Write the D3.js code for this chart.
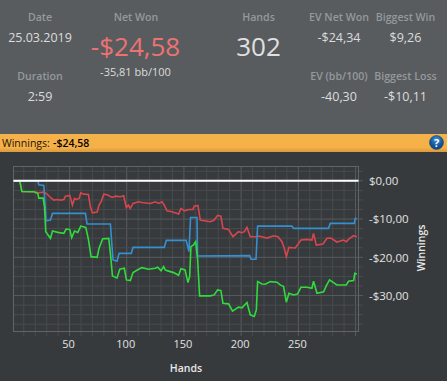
<!DOCTYPE html>
<html>
<head>
<meta charset="utf-8">
<script src="https://cdn.jsdelivr.net/npm/d3@7"></script>
<style>
  html, body { margin: 0; padding: 0; background: #373a3d; overflow: hidden; }
  text { font-family: "Open Sans", "Noto Sans", sans-serif; }
</style>
</head>
<body>
<div id="chart"></div>
<script>
// Values
const redHands = [1, 6.5, 8.3, 18.8, 23.1, 27.5, 30.4, 33.3, 36.2, 39.1, 42, 45, 46.4, 50.2, 51.4, 52.5, 54.3, 56, 58.4, 59.8, 62.4, 66.5, 68.2, 70, 74.1, 75.8, 77.9, 79.9, 82.8, 87.2, 90.1, 94.5, 97.3, 99.6, 101.4, 103.1, 105.5, 110.4, 113.3, 120.6, 125, 127.9, 130.8, 132.8, 135.2, 139.5, 145.3, 147.4, 150.3, 154.1, 157.9, 159, 162.2, 164.3, 173, 176.5, 179.4, 182.3, 184.1, 189, 192.8, 197.7, 200.7, 202.8, 205.1, 208, 212.4, 215.3, 222.6, 228.4, 232.2, 235.7, 237.7, 239.5, 241.8, 247.3, 252.3, 257.5, 261.9, 263.3, 265.7, 271.5, 275, 278.5, 283.7, 289.5, 291.9, 294.8, 298.3, 301.2];
const redValues = [0, 0, -2.78, -2.87, -3.13, -2.96, -3.48, -4.35, -5.04, -4.87, -5.04, -4.87, -4, -3.83, -5.04, -6.35, -4.61, -4.87, -4.61, -3.13, -3.48, -3.57, -6.78, -8.35, -8.17, -6.35, -5.22, -3.48, -3.65, -4.35, -4, -4.17, -3.91, -6.96, -6.35, -7.22, -5.91, -5.48, -5.65, -5.91, -5.48, -5.91, -5.48, -6.35, -7.83, -8.09, -8.7, -7.22, -7.83, -7.48, -7.48, -6.61, -6.43, -10.26, -10.7, -10.26, -9.04, -9.22, -12.43, -12.7, -14.61, -13.3, -13.57, -13.3, -12.17, -14.61, -14.61, -14.43, -14.96, -14.35, -14.61, -15.91, -17.65, -19.83, -17.39, -17.57, -15.48, -15.3, -15.48, -13.74, -16.78, -16.52, -15.04, -14.96, -16, -15.48, -15.91, -15.04, -14.35, -14.61];

const blueHands = [1, 22.3, 23.1, 27.5, 29.5, 33.3, 35.1, 63.9, 65.3, 85.7, 88, 91.5, 93.3, 104, 105.5, 132.8, 134.6, 152, 154.4, 155.8, 161.4, 161.9, 207.5, 208.6, 213, 214.4, 244.4, 245.9, 276.4, 277.9, 298.9, 299.7, 301.2];
const blueValues = [0, 0, -1.04, -1.22, -10.43, -10.26, -8.52, -8.52, -11.3, -11.3, -20.7, -21.04, -18.96, -18.96, -17.39, -17.39, -15.57, -15.57, -18.52, -9.57, -9.57, -19.65, -19.57, -20.52, -20.52, -11.83, -11.83, -12.43, -12.43, -11.13, -11.13, -9.83, -9.83];

const greenHands = [1, 6.5, 8.3, 18.8, 22.3, 23.1, 26.9, 28.1, 29.2, 33.3, 35.1, 39.7, 45, 47, 50.2, 51.9, 54.3, 57.2, 59.8, 64.2, 66.5, 68.8, 74.1, 75.8, 79, 84.3, 86, 87.5, 91.5, 93.9, 97.9, 99.7, 103.1, 105.5, 110.4, 113.3, 119, 125, 127, 130, 132.2, 133.7, 135.2, 141, 145.3, 147.4, 151, 153.5, 155, 156.1, 158.4, 160.2, 161.9, 163.7, 173, 176.5, 179.4, 182.3, 184.1, 189, 192.5, 197.7, 200.7, 205.1, 208, 211.5, 213.3, 214.4, 218.2, 221.1, 225.5, 231.3, 234.2, 237.1, 239.5, 241.8, 245.9, 249.4, 252.3, 257.5, 261.9, 263.3, 266.3, 272.1, 274.4, 277.3, 283.7, 291.9, 293.9, 298.3, 299.4, 301.2];
const greenValues = [0, 0, -2.78, -2.87, -3.3, -4.52, -4.52, -6.78, -13.3, -15.04, -13.13, -13.48, -13.74, -12.61, -12.7, -14.87, -13.13, -13.48, -11.83, -12.17, -15.3, -19.83, -20, -17.65, -15.13, -15.04, -19.83, -24.87, -25.39, -23.13, -22.87, -25.91, -26.09, -24, -23.13, -22.7, -23.13, -22.87, -22.6, -23.48, -22.43, -23.3, -23.48, -24, -24.7, -22.96, -23.3, -26.61, -25.04, -17.22, -16.78, -15.91, -20.26, -30.09, -30.09, -29.83, -28.52, -28.7, -32, -32.17, -34.09, -33.04, -33.22, -31.83, -35.04, -35.48, -33.74, -26.35, -26.96, -27.04, -26.35, -26.52, -27.22, -27.65, -31.74, -29.39, -29.83, -29.57, -27.83, -27.83, -28.09, -26.26, -29.39, -29.04, -27.48, -25.91, -27.22, -27.22, -26.26, -26.09, -24.17, -24.35];

const xLabelTicks = [50, 100, 150, 200, 250];
const yLabelTicks = [0, -10, -20, -30];
const yLabels = ['$0,00', '-$10,00', '-$20,00', '-$30,00'];

const statNames = ['Date', 'Duration', 'EV Net Won', 'EV (bb/100)', 'Biggest Win', 'Biggest Loss'];
const statValues = ['25.03.2019', '2:59', '-$24,34', '-40,30', '$9,26', '-$10,11'];

const width = 447;
const height = 381;

const svg = d3.select('#chart')
  .append('svg')
  .attr('width', width)
  .attr('height', height)
  .style('display', 'block');

// Backgrounds
const defs = svg.append('defs');
const barGrad = defs.append('linearGradient').attr('id', 'barGrad').attr('x2', 0).attr('y2', 1);
barGrad.append('stop').attr('offset', 0).attr('stop-color', '#f6b24a');
barGrad.append('stop').attr('offset', 0.75).attr('stop-color', '#f5b048');
barGrad.append('stop').attr('offset', 1).attr('stop-color', '#d99a3c');
const iconGrad = defs.append('radialGradient').attr('id', 'iconGrad').attr('cy', 0.3);
iconGrad.append('stop').attr('offset', 0).attr('stop-color', '#3f93d8');
iconGrad.append('stop').attr('offset', 1).attr('stop-color', '#0f4f94');

svg.append('rect').attr('width', width).attr('height', 134).attr('fill', '#585c5f');
svg.append('rect').attr('y', 134).attr('width', width).attr('height', 18).attr('fill', 'url(#barGrad)');
svg.append('rect').attr('y', 152).attr('width', width).attr('height', height - 152).attr('fill', '#373a3d');

// Stats block
const statX = [40, 40, 339, 339, 405.5, 405.5];
const statNameY = [21, 80, 21, 80, 21, 80];
const statValueY = [42, 101, 42, 101, 42, 101];

svg.append('g').selectAll('text').data(statNames).join('text')
  .attr('x', (d, i) => statX[i])
  .attr('y', (d, i) => statNameY[i])
  .attr('text-anchor', 'middle')
  .attr('font-size', 10.6)
  .attr('font-weight', 600)
  .attr('fill', '#95999c')
  .text(d => d);

svg.append('g').selectAll('text').data(statValues).join('text')
  .attr('x', (d, i) => statX[i])
  .attr('y', (d, i) => statValueY[i])
  .attr('text-anchor', 'middle')
  .attr('font-size', 12.5)
  .attr('fill', '#dcdcdc')
  .text(d => d);

function bigText(x, y, size, fill, weight, str) {
  return svg.append('text')
    .attr('x', x).attr('y', y)
    .attr('text-anchor', 'middle')
    .attr('font-size', size)
    .attr('font-weight', weight)
    .attr('fill', fill)
    .text(str);
}
bigText(136, 21, 10.6, '#95999c', 600, 'Net Won');
bigText(135.5, 56, 26, '#ee7272', 400, '-$24,58');
bigText(135.5, 76, 11, '#dcdcdc', 400, '-35,81 bb/100');
bigText(258.5, 21, 10.6, '#95999c', 600, 'Hands');
bigText(258.5, 56, 26, '#e0e0e0', 400, '302');

// Title bar
const barText = svg.append('text').attr('x', 2).attr('y', 147).attr('font-size', 10.5).attr('fill', '#1a1408');
barText.append('tspan').text('Winnings:');
barText.append('tspan').attr('x', 53).attr('font-weight', 600).attr('fill', '#000').text('-$24,58');

svg.append('circle').attr('cx', 436.5).attr('cy', 142.5).attr('r', 7)
  .attr('fill', 'url(#iconGrad)').attr('stroke', '#0b3c75').attr('stroke-width', 0.5);
bigText(436.5, 146.5, 11, '#fff', 700, '?');

// Scales
const x = d3.scaleLinear().domain([1, 302.6]).range([13.5, 358.5]);
const y = d3.scaleLinear().domain([3.75, -39.4]).range([166.5, 331.5]);

const xMinor = d3.range(10, 301, 10);
const yMinor = d3.range(2.5, -39, -2.5);

// Grid
const grid = svg.append('g');
grid.selectAll('.xg').data(xMinor).join('line')
  .attr('x1', d => x(d)).attr('x2', d => x(d))
  .attr('y1', y.range()[0]).attr('y2', 336)
  .attr('stroke', d => d % 50 === 0 ? '#595c5e' : '#484b4e');
grid.selectAll('.yg').data(yMinor).join('line')
  .attr('x1', x.range()[0]).attr('x2', 363)
  .attr('y1', d => y(d)).attr('y2', d => y(d))
  .attr('stroke', d => d % 10 === 0 ? '#595c5e' : '#484b4e');
grid.append('rect')
  .attr('x', x.range()[0]).attr('y', y.range()[0])
  .attr('width', x.range()[1] - x.range()[0])
  .attr('height', y.range()[1] - y.range()[0])
  .attr('fill', 'none')
  .attr('stroke', '#616466');

// Axes
const xAxis = d3.axisBottom(x).tickValues(xLabelTicks).tickSize(0).tickPadding(0);
const gx = svg.append('g').attr('transform', 'translate(-1.5,345)').call(xAxis);
const yAxis = d3.axisRight(y).tickValues(yLabelTicks).tickSize(0).tickPadding(0)
  .tickFormat((d, i) => yLabels[i]);
const gy = svg.append('g').attr('transform', 'translate(369,0)').call(yAxis);
gx.select('.domain').remove();
gy.select('.domain').remove();
gx.selectAll('text').attr('font-size', 11).attr('fill', '#e2e2e2').attr('dy', '0.3em');
gy.selectAll('text').attr('font-size', 11.5).attr('fill', '#e2e2e2');

bigText(186, 372, 10.5, '#e8e8e8', 600, 'Hands');
svg.append('text')
  .attr('transform', 'translate(425,248) rotate(-90)')
  .attr('text-anchor', 'middle')
  .attr('font-size', 10.5)
  .attr('font-weight', 600)
  .attr('fill', '#e8e8e8')
  .text('Winnings');

// Lines
const line = d3.line().x(d => x(d[0])).y(d => y(d[1]));
const seriesList = [
  { hands: redHands, values: redValues, color: '#d8454c' },
  { hands: blueHands, values: blueValues, color: '#3590d0' },
  { hands: greenHands, values: greenValues, color: '#2fdc3c' }
];
seriesList.forEach(s => {
  svg.append('path')
    .datum(d3.zip(s.hands, s.values))
    .attr('fill', 'none')
    .attr('stroke', s.color)
    .attr('stroke-width', 1.6)
    .attr('d', line);
});

// Zero line
svg.append('line')
  .attr('x1', x.range()[0]).attr('x2', x.range()[1])
  .attr('y1', y(0)).attr('y2', y(0))
  .attr('stroke', '#fff')
  .attr('stroke-width', 2);
</script>
</body>
</html>
